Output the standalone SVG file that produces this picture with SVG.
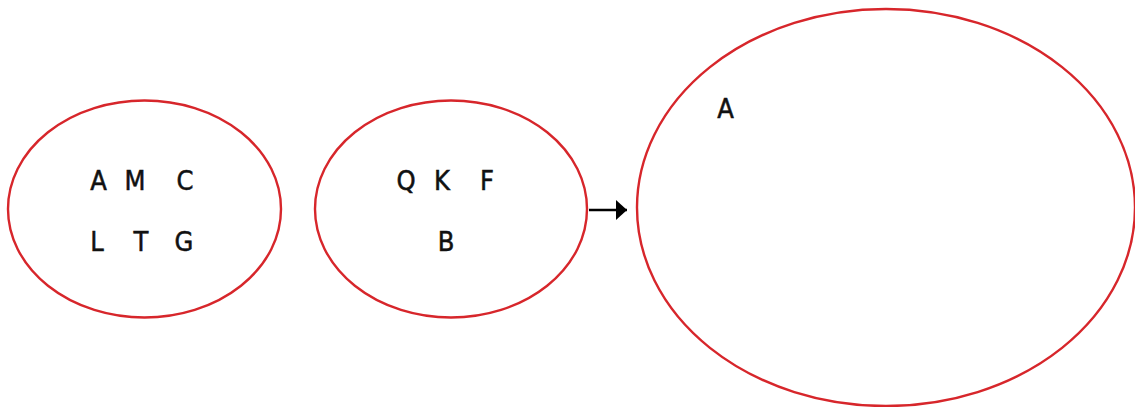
<svg xmlns="http://www.w3.org/2000/svg" width="1135" height="407" viewBox="0 0 1135 407">
<style>
.set{fill:none;stroke:#d7262b;stroke-width:2.4}
.lbl{font-family:"DejaVu Sans Condensed","DejaVu Sans",sans-serif;font-size:27px;fill:#111;stroke:#111;stroke-width:0.5;text-anchor:middle}
.conn{stroke:#000;stroke-width:2.4;fill:none}
</style>
<defs>
<marker id="arr" markerUnits="userSpaceOnUse" markerWidth="12" markerHeight="22" refX="11" refY="10" orient="auto">
<path d="M0,0 L11,10 L0,20 Z" fill="#000"/>
</marker>
</defs>
<rect width="1135" height="407" fill="#fff"/>
<g id="set1">
<ellipse class="set" cx="144.5" cy="209" rx="136.5" ry="108.5"/>
<text class="lbl" x="98.5" y="190">A</text>
<text class="lbl" x="135" y="190">M</text>
<text class="lbl" x="185" y="190">C</text>
<text class="lbl" x="97" y="251">L</text>
<text class="lbl" x="141" y="251">T</text>
<text class="lbl" x="184" y="251">G</text>
</g>
<g id="set2">
<ellipse class="set" cx="451" cy="209" rx="136" ry="108.5"/>
<text class="lbl" x="406" y="190">Q</text>
<text class="lbl" x="442" y="190">K</text>
<text class="lbl" x="487" y="190">F</text>
<text class="lbl" x="446" y="251">B</text>
</g>
<g id="set3">
<ellipse class="set" cx="886" cy="207.5" rx="249" ry="198.5"/>
<text class="lbl" x="725.5" y="118">A</text>
</g>
<g id="connectors">
<line class="conn" x1="589" y1="210" x2="627" y2="210" marker-end="url(#arr)"/>
</g>
</svg>
